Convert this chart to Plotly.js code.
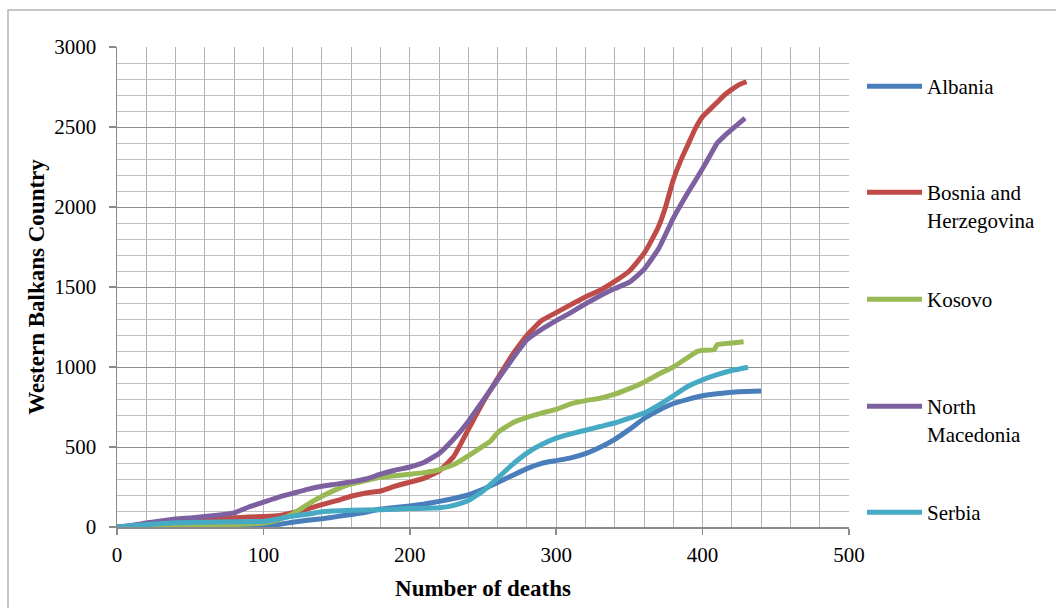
<!DOCTYPE html>
<html>
<head>
<meta charset="utf-8">
<script src="https://cdn.plot.ly/plotly-3.0.1.min.js"></script>
<style>
html,body{margin:0;padding:0;background:#fff;}
#chart{width:1056px;height:608px;}
</style>
</head>
<body>
<div id="chart"></div>
<script>
// ---- data ----
const seriesNames = ["Albania", "Bosnia and<br>Herzegovina", "Kosovo", "North<br>Macedonia", "Serbia"];

const albaniaX = [0, 50, 100, 110, 120, 130, 140, 150, 160, 170, 180, 190, 200, 210, 220, 230, 240, 250, 260, 270, 280, 290, 300, 310, 320, 330, 340, 350, 360, 370, 380, 390, 400, 410, 420, 430, 440];
const albaniaY = [0, 0, 2, 15, 30, 42, 52, 65, 78, 92, 112, 122, 132, 144, 160, 178, 200, 235, 278, 322, 365, 398, 415, 432, 458, 498, 548, 610, 678, 730, 772, 798, 820, 833, 842, 847, 850];

const bosniaX = [0, 10, 20, 30, 40, 50, 60, 70, 80, 90, 100, 110, 120, 130, 140, 150, 160, 170, 180, 190, 200, 210, 220, 230, 240, 250, 260, 270, 280, 290, 300, 310, 320, 330, 340, 350, 360, 365, 370, 375, 380, 385, 390, 395, 400, 405, 410, 415, 420, 425, 430];
const bosniaY = [0, 5, 12, 20, 28, 35, 42, 50, 58, 62, 65, 70, 90, 112, 140, 165, 192, 212, 225, 255, 280, 305, 350, 440, 610, 780, 930, 1075, 1198, 1290, 1340, 1390, 1438, 1480, 1535, 1600, 1710, 1790, 1880, 2010, 2170, 2290, 2390, 2490, 2565, 2610, 2655, 2700, 2735, 2765, 2783];

const kosovoX = [0, 20, 40, 60, 80, 100, 110, 120, 130, 140, 150, 160, 170, 180, 190, 200, 210, 220, 230, 240, 250, 255, 260, 270, 280, 290, 300, 310, 320, 330, 340, 350, 360, 370, 380, 390, 396, 400, 408, 410, 420, 428];
const kosovoY = [0, 3, 6, 10, 15, 25, 45, 82, 140, 192, 235, 270, 290, 310, 320, 330, 340, 358, 390, 445, 505, 535, 590, 650, 685, 712, 735, 770, 790, 805, 830, 865, 905, 955, 1000, 1060, 1096, 1105, 1108, 1140, 1150, 1158];

const macedoniaX = [0, 10, 20, 30, 40, 50, 60, 70, 80, 90, 100, 110, 120, 130, 140, 150, 160, 170, 180, 190, 200, 210, 220, 230, 240, 250, 260, 270, 280, 290, 300, 310, 320, 330, 340, 350, 360, 370, 380, 390, 400, 405, 410, 415, 420, 429];
const macedoniaY = [0, 10, 25, 38, 50, 57, 65, 75, 88, 125, 155, 185, 210, 235, 255, 268, 282, 300, 330, 355, 375, 405, 460, 550, 660, 790, 920, 1050, 1170, 1235, 1290, 1340, 1395, 1445, 1490, 1530, 1610, 1740, 1930, 2090, 2240, 2320, 2400, 2445, 2485, 2555];

const serbiaX = [0, 10, 20, 40, 60, 80, 100, 110, 120, 130, 140, 160, 180, 200, 220, 230, 240, 250, 260, 270, 280, 290, 300, 310, 320, 330, 340, 350, 360, 370, 380, 390, 400, 410, 420, 431];
const serbiaY = [0, 8, 15, 27, 30, 33, 35, 50, 68, 80, 95, 104, 108, 115, 120, 135, 165, 225, 305, 390, 462, 515, 555, 582, 605, 628, 650, 680, 712, 762, 820, 880, 920, 952, 978, 998];

const xTickVals = [0, 100, 200, 300, 400, 500];
const yTickVals = [0, 500, 1000, 1500, 2000, 2500, 3000];

// ---- styling ----
const colors = ["#4A7EBB", "#BE4B48", "#98B954", "#7D60A0", "#46AAC5"];
const serif = "Liberation Serif";
const xs = [albaniaX, bosniaX, kosovoX, macedoniaX, serbiaX];
const ys = [albaniaY, bosniaY, kosovoY, macedoniaY, serbiaY];
const legendIds = ["legend", "legend2", "legend3", "legend4", "legend5"];
const legendSymbolPx = [87, 193, 300, 407, 513];

const traces = seriesNames.map((name, i) => ({
  type: "scatter",
  mode: "lines",
  x: xs[i],
  y: ys[i],
  name: name,
  legend: legendIds[i],
  line: {color: colors[i], width: 5, shape: "spline", smoothing: 0.4}
}));

const L = 117, R = 849, T = 47, B = 527, W = 1056, H = 608;
const pw = R - L, ph = B - T;

const layout = {
  width: W, height: H,
  margin: {l: L, r: W - R, t: T, b: H - B, pad: 0},
  paper_bgcolor: "#ffffff",
  plot_bgcolor: "#ffffff",
  font: {family: serif, size: 21, color: "#000"},
  showlegend: true,
  xaxis: {
    range: [0, 500],
    tickvals: xTickVals,
    ticktext: xTickVals.map(String),
    showgrid: true, gridcolor: "#b3b3b3", gridwidth: 1,
    minor: {dtick: 20, showgrid: true, gridcolor: "#b3b3b3", gridwidth: 1, ticks: ""},
    showline: true, linecolor: "#8a8a8a", linewidth: 1.5,
    ticks: "outside", ticklen: 6, tickcolor: "#8a8a8a", tickwidth: 1.5,
    ticklabelstandoff: 2,
    zeroline: false,
    tickfont: {family: serif, size: 21, color: "#000"},
    title: {text: "Number of deaths", font: {family: serif, size: 23, color: "#000", weight: "bold"}, standoff: 14}
  },
  yaxis: {
    range: [0, 3000],
    tickvals: yTickVals,
    ticktext: yTickVals.map(String),
    showgrid: true, gridcolor: "#8e8e8e", gridwidth: 1,
    minor: {dtick: 100, showgrid: true, gridcolor: "#c0c0c0", gridwidth: 1, ticks: ""},
    showline: true, linecolor: "#8a8a8a", linewidth: 1.5,
    ticks: "outside", ticklen: 7, tickcolor: "#8a8a8a", tickwidth: 1.5,
    ticklabelstandoff: 8,
    zeroline: false,
    tickfont: {family: serif, size: 21, color: "#000"},
    title: {text: "Western Balkans Country", font: {family: serif, size: 23, color: "#000", weight: "bold"}, standoff: 3}
  },
  shapes: [{
    type: "rect", xref: "paper", yref: "paper", layer: "below",
    x0: (8 - L) / pw, x1: (1070 - L) / pw,
    y0: (B - 620) / ph, y1: (B - 10) / ph,
    line: {color: "#b4b4b4", width: 1.5}, fillcolor: "rgba(0,0,0,0)"
  }]
};

legendIds.forEach((id, i) => {
  layout[id] = {
    x: (862 - L) / pw, xanchor: "left",
    y: (B - (legendSymbolPx[i] - 21)) / ph, yanchor: "top",
    valign: "top",
    itemwidth: 55,
    font: {family: serif, size: 21, color: "#000"},
    bgcolor: "rgba(0,0,0,0)"
  };
});

Plotly.newPlot("chart", traces, layout, {displayModeBar: false, staticPlot: true});
</script>
</body>
</html>
